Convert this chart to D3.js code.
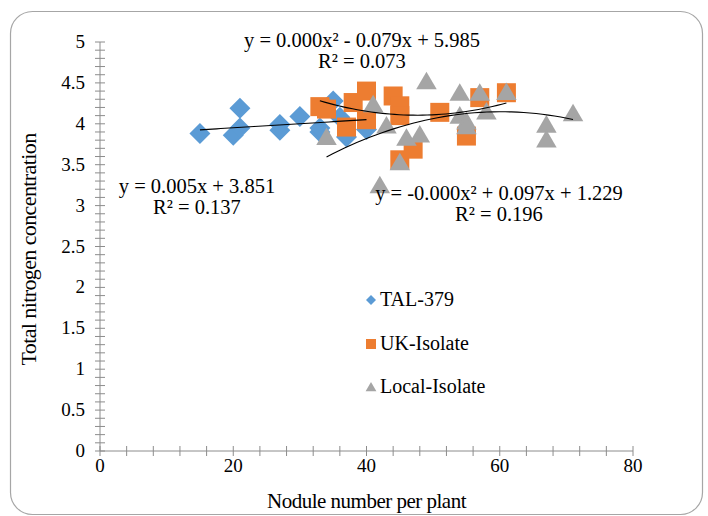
<!DOCTYPE html>
<html>
<head>
<meta charset="utf-8">
<script src="https://cdn.jsdelivr.net/npm/d3@7"></script>
<style>
  body { margin: 0; background: #fff; }
  text { font-family: "Liberation Serif", "DejaVu Serif", serif; fill: #000; }
</style>
</head>
<body>
<div id="chart"></div>
<script>
// Chart values;
var talX = [15, 20, 21, 21, 27, 27, 30, 33, 33, 35, 36, 37, 40]
var talY = [3.88, 3.86, 3.95, 4.19, 3.92, 3.99, 4.09, 3.90, 3.95, 4.28, 4.08, 3.84, 3.93]

var ukX = [33, 34, 37, 38, 40, 40, 44, 45, 45, 45, 47, 51, 55, 57, 61]
var ukY = [4.21, 4.18, 3.96, 4.26, 4.40, 4.05, 4.34, 4.22, 4.10, 3.56, 3.69, 4.14, 3.85, 4.32, 4.38]

var localX = [34, 41, 42, 43, 45, 46, 48, 49, 54, 54, 55, 55, 57, 58, 61, 67, 67, 71]
var localY = [3.84, 4.24, 3.25, 3.98, 3.53, 3.83, 3.87, 4.52, 4.38, 4.10, 4.03, 3.97, 4.38, 4.15, 4.39, 3.99, 3.81, 4.13]

var seriesNames = ["TAL-379", "UK-Isolate", "Local-Isolate"]
var seriesColors = ["#5b9bd5", "#ed7d31", "#a5a5a5"]

// Trendline coefficients [c2, c1, c0] (unrounded so the curves match the picture);
var talTrend = [0, 0.005, 3.851]
var ukTrend = [0.00083, -0.079, 5.985]
var localTrend = [-0.000806, 0.097, 1.229]

var trendLabels = [
    ["y = 0.005x + 3.851", "R\u00b2 = 0.137"],
    ["y = 0.000x\u00b2 - 0.079x + 5.985", "R\u00b2 = 0.073"],
    ["y = -0.000x\u00b2 + 0.097x + 1.229", "R\u00b2 = 0.196"]
]

var xTicks = [0, 20, 40, 60, 80]
var yTicks = [0, 0.5, 1, 1.5, 2, 2.5, 3, 3.5, 4, 4.5, 5]

/////////////////////////////

const width = 708
const height = 516

const svg = d3.select("#chart").append("svg")
    .attr("width", width)
    .attr("height", height)

// Chart border;
svg.append("rect")
    .attr("x", 10.5).attr("y", 11.5)
    .attr("width", 692).attr("height", 503)
    .attr("rx", 22)
    .attr("fill", "#fff")
    .attr("stroke", "#a6a6a6")
    .attr("stroke-width", 1.2)

const x = d3.scaleLinear().domain([0, 80]).range([100, 633])
const y = d3.scaleLinear().domain([0, 5]).range([451, 42])

const axisColor = "#8c8c8c"

// Y axis with cross ticks every 0.1;
const yAxisG = svg.append("g")
yAxisG.append("line")
    .attr("x1", x(0)).attr("x2", x(0))
    .attr("y1", y(0)).attr("y2", y(5))
    .attr("stroke", axisColor)
yAxisG.selectAll("line.tick")
    .data(d3.range(0, 51).map(i => i / 10))
    .join("line")
    .attr("class", "tick")
    .attr("x1", x(0) - 5).attr("x2", x(0) + 5)
    .attr("y1", d => y(d)).attr("y2", d => y(d))
    .attr("stroke", axisColor)
yAxisG.selectAll("text")
    .data(yTicks)
    .join("text")
    .attr("x", 85)
    .attr("y", d => y(d) + 6)
    .attr("text-anchor", "end")
    .attr("font-size", 19)
    .text(d => d)

// X axis with cross ticks every 4;
const xAxisG = svg.append("g")
xAxisG.append("line")
    .attr("x1", x(0)).attr("x2", x(80))
    .attr("y1", y(0)).attr("y2", y(0))
    .attr("stroke", axisColor)
xAxisG.selectAll("line.tick")
    .data(d3.range(0, 81, 4))
    .join("line")
    .attr("class", "tick")
    .attr("x1", d => x(d)).attr("x2", d => x(d))
    .attr("y1", y(0) - 5).attr("y2", y(0) + 5)
    .attr("stroke", axisColor)
xAxisG.selectAll("text")
    .data(xTicks)
    .join("text")
    .attr("x", d => x(d))
    .attr("y", 472)
    .attr("text-anchor", "middle")
    .attr("font-size", 19)
    .text(d => d)

// Axis titles;
svg.append("text")
    .attr("x", (x(0) + x(80)) / 2)
    .attr("y", 508)
    .attr("text-anchor", "middle")
    .attr("font-size", 21)
    .attr("letter-spacing", -0.5)
    .text("Nodule number per plant")

svg.append("text")
    .attr("transform", `translate(36,${(y(0) + y(5)) / 2 + 3}) rotate(-90)`)
    .attr("text-anchor", "middle")
    .attr("font-size", 22)
    .attr("letter-spacing", -0.6)
    .text("Total nitrogen concentration")

/////////////////////////////

// Marker shapes, s = half size;
var diamond = s => `M0,${-s}L${s},0L0,${s}L${-s},0Z`
var square = s => `M${-s},${-s}H${s}V${s}H${-s}Z`
var triangle = s => `M0,${-s}L${s * 1.08},${s * 0.85}H${-s * 1.08}Z`

var series = [
    {xs: talX, ys: talY, shape: diamond, size: 10.5},
    {xs: ukX, ys: ukY, shape: square, size: 9.5},
    {xs: localX, ys: localY, shape: triangle, size: 9.5}
]

series.forEach((s, i) => {
    svg.append("g").selectAll("path")
        .data(s.xs.map((v, j) => [v, s.ys[j]]))
        .join("path")
        .attr("transform", d => `translate(${x(d[0])},${y(d[1])})`)
        .attr("d", s.shape(s.size))
        .attr("fill", seriesColors[i])
})

// Trendlines drawn over the data range of each series;
var trends = [
    {c: talTrend, xs: talX},
    {c: ukTrend, xs: ukX},
    {c: localTrend, xs: localX}
]
const line = d3.line().x(d => x(d[0])).y(d => y(d[1]))
trends.forEach(t => {
    const [lo, hi] = d3.extent(t.xs)
    const pts = d3.range(0, 41).map(k => {
        const xv = lo + (hi - lo) * k / 40
        return [xv, t.c[0] * xv * xv + t.c[1] * xv + t.c[2]]
    })
    svg.append("path")
        .attr("d", line(pts))
        .attr("fill", "none")
        .attr("stroke", "#000")
        .attr("stroke-width", 1.1)
})

// Trendline equations;
var labelPos = [[197, 193], [362, 47], [499, 200]]
trendLabels.forEach((lbl, i) => {
    const g = svg.append("g")
    g.append("text")
        .attr("x", labelPos[i][0]).attr("y", labelPos[i][1])
        .attr("text-anchor", "middle")
        .attr("font-size", 20.5)
        .text(lbl[0])
    g.append("text")
        .attr("x", labelPos[i][0]).attr("y", labelPos[i][1] + 21)
        .attr("text-anchor", "middle")
        .attr("font-size", 20.5)
        .text(lbl[1])
})

/////////////////////////////

// Legend;
var legendY = [300, 344, 387]
var legendShapes = [diamond(5), square(5), triangle(5)]
const legend = svg.append("g")
seriesNames.forEach((name, i) => {
    legend.append("path")
        .attr("transform", `translate(371,${legendY[i]})`)
        .attr("d", legendShapes[i])
        .attr("fill", seriesColors[i])
    legend.append("text")
        .attr("x", 380).attr("y", legendY[i] + 6)
        .attr("font-size", 20)
        .text(name)
})
</script>
</body>
</html>
